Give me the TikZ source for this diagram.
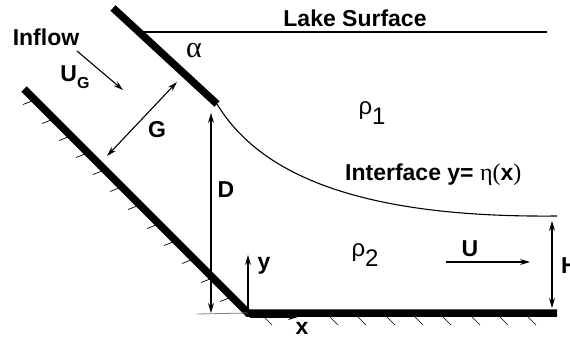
\documentclass[tikz,border=0pt]{standalone}
\usepackage{fontspec}
\setmainfont{Liberation Sans}
\newfontfamily\seriff{Liberation Serif}
\usetikzlibrary{arrows.meta}
\begin{document}
\begin{tikzpicture}[x=1pt,y=-1pt,
  wall/.style={line width=7.5pt},
  thinline/.style={line width=1.1pt},
  hatchline/.style={line width=0.7pt},
  arr/.style={thinline,-{Stealth[length=10pt,width=6pt]}},
  darr/.style={thinline,{Stealth[length=10pt,width=6pt]}-{Stealth[length=10pt,width=6pt]}},
  lbl/.style={font=\bfseries\fontsize{23}{23}\selectfont, inner sep=0pt},
  greek/.style={font=\fontsize{24}{24}\selectfont, inner sep=0pt}]
\useasboundingbox (0,0) rectangle (570,340);

% coordinates
\coordinate (uw1) at (113,8);
\coordinate (uw2) at (217,104);
\coordinate (lw1) at (24,89);
\coordinate (corner) at (248,313);
\coordinate (bw2) at (557,313);
\coordinate (ls1) at (141,32);
\coordinate (ls2) at (547,32);
\coordinate (if2) at (557,216);

% x axis arrow (mostly hidden under the wall)
\coordinate (xa1) at (250,317);
\coordinate (xa2) at (298,317);
\draw[arr] (xa1) -- (xa2);

% hatches on inclined wall
\foreach \hx in {32,51,68,85,102,119,137,156,173,191,210,229}
  \draw[hatchline] (\hx,\hx+69) -- ++(-9,3.5);
% hatches on bottom wall
\foreach \hx in {264,330,358,387,415,443,472,500,528}
  \draw[hatchline] (\hx,317) -- ++(8,8);

% walls
\draw[wall] (uw1) -- (uw2);
\draw[wall,line join=miter] (lw1) -- (corner) -- (bw2);

% lake surface
\draw[thinline] (ls1) -- (ls2);
\node[lbl] (lake) at (355,18) {Lake Surface};

% interface
\draw[thinline] (uw2) .. controls (260,175) and (360,218) .. (if2);
\node[lbl,anchor=west] (iface) at (345,175)
  {Interface y= {\seriff\mdseries\fontsize{24}{24}\selectfont η(}x{\seriff\mdseries\fontsize{24}{24}\selectfont )}};

% D arrow and reference line
\coordinate (dtop) at (211,113);
\coordinate (dbot) at (211,313);
\coordinate (ref1) at (197,314);
\draw[line width=0.8pt,gray] (ref1) -- (corner);
\draw[darr] (dtop) -- (dbot);
\node[lbl] (Dl) at (226,190) {D};

% y axis
\coordinate (ytip) at (248,255);
\draw[arr] (corner) -- (ytip);
\node[lbl] (yl) at (264,266) {y};
\node[lbl] (xl) at (302,328) {x};

% inflow
\node[lbl] (inflow) at (46,37) {Inflow};
\node[lbl] (ug) at (75,77) {U\raisebox{-0.3em}{\fontsize{16}{16}\selectfont G}};
\coordinate (in1) at (77,51);
\coordinate (in2) at (123,90);
\draw[arr] (in1) -- (in2);

% G arrow
\coordinate (g1) at (177,82);
\coordinate (g2) at (107,156);
\draw[darr] (g1) -- (g2);
\node[lbl] (Gl) at (157,130) {G};

% alpha
\node[inner sep=0pt,font=\seriff\fontsize{30}{30}\selectfont] (alpha) at (194,51) {α};

% densities
\node[greek] (rho1) at (372,113) {ρ\raisebox{-0.4em}{1}};
\node[greek] (rho2) at (365,255) {ρ\raisebox{-0.4em}{2}};

% U arrow
\coordinate (u1) at (446,262);
\coordinate (u2) at (530,262);
\draw[arr] (u1) -- (u2);
\node[lbl] (Ul) at (470,249) {U};

% H arrow
\coordinate (h1) at (552,221);
\coordinate (h2) at (552,308);
\draw[darr] (h1) -- (h2);
\node[lbl,anchor=west] (Hl) at (561,266) {H};
\end{tikzpicture}
\end{document}
